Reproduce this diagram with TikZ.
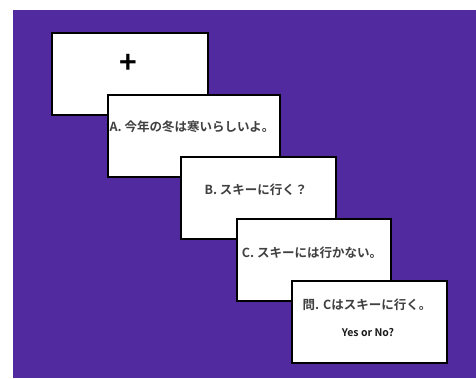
\documentclass[tikz,border=0pt]{standalone}
\usepackage{fontspec}
\setmainfont{Noto Sans CJK JP}[BoldFont={Noto Sans CJK JP Bold}]
\definecolor{bgpurple}{RGB}{80,42,158}
\begin{document}
\begin{tikzpicture}[x=1pt,y=-1pt,
  card/.style={draw=black,line width=1.5pt,fill=white},
  cardtext/.style={font=\fontsize{12.5}{14}\selectfont\bfseries,inner sep=0pt,text=black!75}]
\useasboundingbox (0,0) rectangle (476,378);
\fill[white] (0,0) rectangle (476,378);
\fill[bgpurple] (13,10) rectangle (476,378);
\node[card,minimum width=156pt,minimum height=82pt,inner sep=0pt,anchor=north west] (c1) at (51,32) {};
\node[font=\fontsize{30}{30}\selectfont\bfseries,inner sep=0pt] (plus) at (128,64) {+};
\node[card,minimum width=172pt,minimum height=82pt,inner sep=0pt,anchor=north west] (c2) at (107,94) {};
\node[cardtext] (ta) at (192,127) {A. 今年の冬は寒いらしいよ。};
\node[card,minimum width=155pt,minimum height=82pt,inner sep=0pt,anchor=north west] (c3) at (180,156) {};
\node[cardtext] (tb) at (256,190) {B. スキーに行く？};
\node[card,minimum width=154pt,minimum height=82pt,inner sep=0pt,anchor=north west] (c4) at (236,218) {};
\node[cardtext] (tc) at (312,253) {C. スキーには行かない。};
\node[card,minimum width=155pt,minimum height=82pt,inner sep=0pt,anchor=north west] (c5) at (291,280) {};
\node[cardtext] (tq) at (367,305) {問. Cはスキーに行く。};
\node[cardtext,text=black!90,font=\fontsize{10.5}{12}\selectfont\bfseries] (yn) at (368,333) {Yes or No?};
\end{tikzpicture}
\end{document}
